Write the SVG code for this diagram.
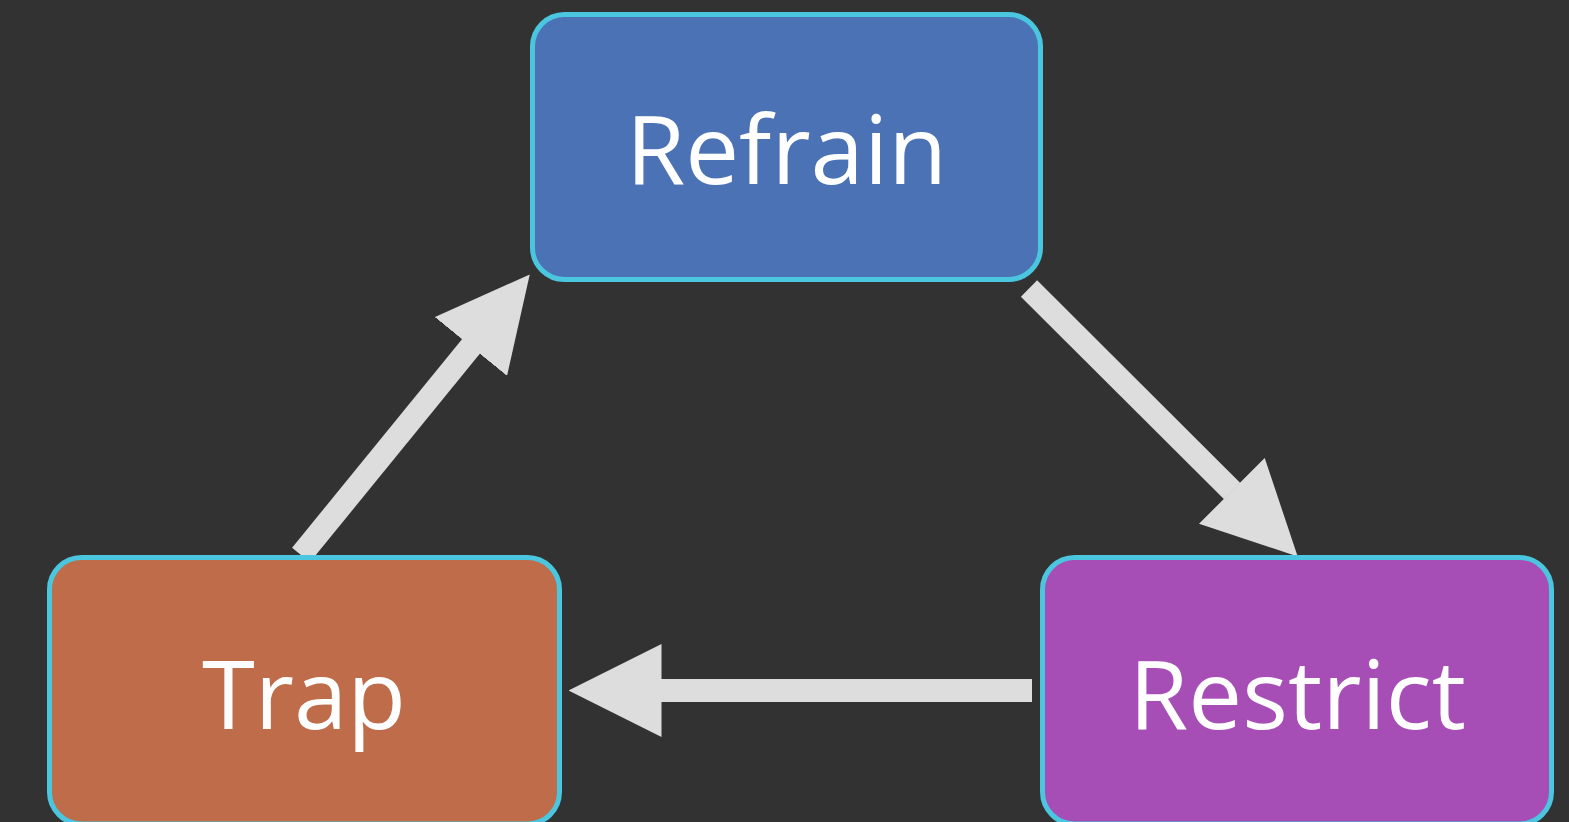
<svg xmlns="http://www.w3.org/2000/svg" width="1569" height="822" viewBox="0 0 1569 822">
  <style>
    .box { stroke: #4AC6DE; stroke-width: 5; }
    .label { font-family: "Open Sans", "Noto Sans", sans-serif; font-size: 96px; fill: #FFFFFF; text-anchor: middle; }
    .shaft { stroke: #DDDDDD; stroke-width: 23; fill: none; }
  </style>
  <defs>
    <marker id="head" markerUnits="userSpaceOnUse" viewBox="0 -46.5 93 93" refX="0.5" refY="0" markerWidth="93" markerHeight="93" orient="auto">
      <path d="M0,-46.5 L93,0 L0,46.5 Z" fill="#DDDDDD"/>
    </marker>
  </defs>
  <rect width="1569" height="822" fill="#323232"/>

  <g id="connectors">
    <!-- Trap -> Refrain -->
    <line class="shaft" x1="301" y1="555" x2="471.3" y2="346.1" marker-end="url(#head)"/>
    <!-- Refrain -> Restrict -->
    <line class="shaft" x1="1029" y1="288.5" x2="1232.2" y2="491.2" marker-end="url(#head)"/>
    <!-- Restrict -> Trap -->
    <line class="shaft" x1="1032" y1="690.5" x2="661" y2="690.5" marker-end="url(#head)"/>
  </g>

  <g id="refrain">
    <rect class="box" x="532.5" y="14.5" width="508" height="265" rx="32" fill="#4A72B4"/>
    <text class="label" x="786.5" y="184">Refrain</text>
  </g>
  <g id="trap">
    <rect class="box" x="49.5" y="557.5" width="510" height="266.5" rx="32" fill="#BE6C4A"/>
    <text class="label" x="304" y="729">Trap</text>
  </g>
  <g id="restrict">
    <rect class="box" x="1042.5" y="557.5" width="509" height="266.5" rx="32" fill="#A64DB6"/>
    <text class="label" x="1297.5" y="729">Restrict</text>
  </g>
</svg>
